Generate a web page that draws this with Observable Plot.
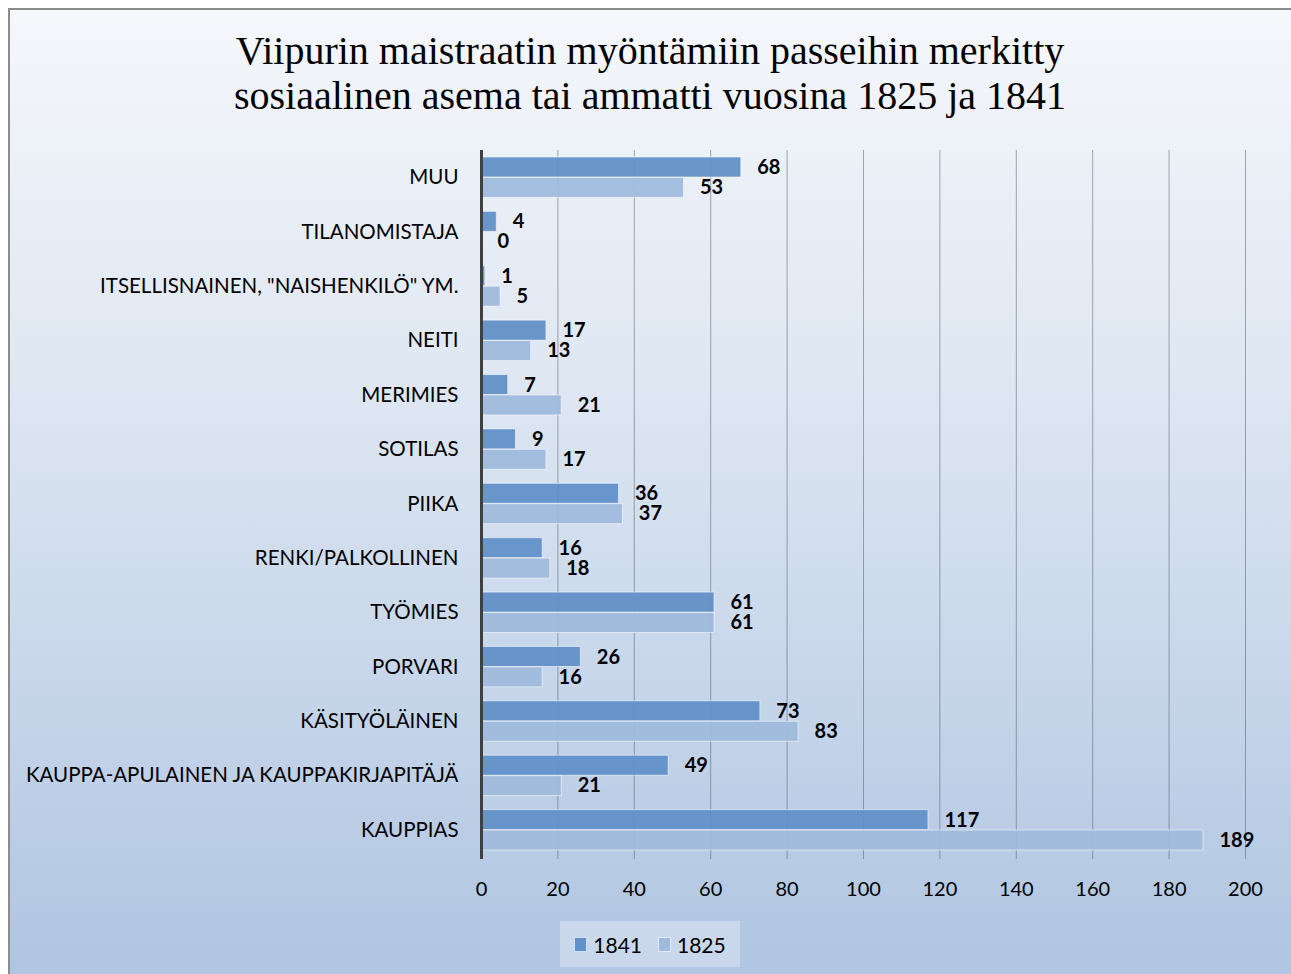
<!DOCTYPE html>
<html>
<head>
<meta charset="utf-8">
<script src="https://cdn.jsdelivr.net/npm/d3@7"></script>
<script src="https://cdn.jsdelivr.net/npm/@observablehq/plot@0.6"></script>
<style>
  html, body { margin: 0; padding: 0; width: 1291px; height: 974px; overflow: hidden; background: #fff; }
  #frame {
    position: absolute; left: 8px; top: 8px; width: 1290px; height: 980px;
    border-left: 2px solid #8c8c8c; border-top: 2px solid #8c8c8c;
    background: linear-gradient(to bottom, #f5f7fb 0%, #dde6f2 40%, #aec4e1 100%);
  }
  #title {
    position: absolute; left: 0; top: 28px; width: 1300px; text-align: center;
    font-family: "Liberation Serif", serif; font-size: 40px; line-height: 45px; color: #000;
  }
  #chart { position: absolute; left: 0; top: 130px; line-height: 0; }
  #legend {
    position: absolute; left: 560px; top: 921px; width: 180px; height: 46px;
    background: rgba(255,255,255,0.3);
    font-family: Lato, sans-serif; font-size: 21px; color: #000;
    display: flex; align-items: center; justify-content: center; gap: 16px;
  }
  .item { display: flex; align-items: center; gap: 6px; }
  .sw { width: 11px; height: 13px; border: 1px solid rgba(255,255,255,0.7); }
</style>
</head>
<body>
<div id="frame"></div>
<div id="title">Viipurin maistraatin myöntämiin passeihin merkitty<br>sosiaalinen asema tai ammatti vuosina 1825 ja 1841</div>
<div id="chart"></div>
<div id="legend"></div>
<script>
const categories = ["MUU", "TILANOMISTAJA", "ITSELLISNAINEN, \"NAISHENKILÖ\" YM.", "NEITI", "MERIMIES", "SOTILAS", "PIIKA", "RENKI/PALKOLLINEN", "TYÖMIES", "PORVARI", "KÄSITYÖLÄINEN", "KAUPPA-APULAINEN JA KAUPPAKIRJAPITÄJÄ", "KAUPPIAS"];
const values1841 = [68, 4, 1, 17, 7, 9, 36, 16, 61, 26, 73, 49, 117];
const values1825 = [53, 0, 5, 13, 21, 17, 37, 18, 61, 16, 83, 21, 189];
const series = ["1841", "1825"];
const colors = ["#6290c8", "#9fbadc"];
const xTicks = [0, 20, 40, 60, 80, 100, 120, 140, 160, 180, 200];

const d1841 = categories.map((c, i) => ({category: c, value: values1841[i], series: "1841"}));
const d1825 = categories.map((c, i) => ({category: c, value: values1825[i], series: "1825"}));

const chart = Plot.plot({
  width: 1291,
  height: 777,
  marginLeft: 481,
  marginRight: 46,
  marginTop: 20,
  marginBottom: 50,
  style: {background: "transparent", overflow: "visible"},
  x: {domain: [0, 200], ticks: xTicks, label: null},
  y: {domain: categories, padding: 0, round: false, label: null},
  marks: [
    Plot.ruleX(xTicks.filter(d => d > 0), {stroke: "#505866", strokeOpacity: 0.5, strokeWidth: 1, insetBottom: -2}),
    Plot.barX(d1841, {x: "value", y: "category", fill: colors[0], fillOpacity: 0.95, stroke: "#ffffff", strokeOpacity: 0.55, strokeWidth: 1, insetTop: 7, insetBottom: 27.4}),
    Plot.barX(d1825, {x: "value", y: "category", fill: colors[1], fillOpacity: 0.95, stroke: "#ffffff", strokeOpacity: 0.55, strokeWidth: 1, insetTop: 27.4, insetBottom: 7}),
    Plot.ruleX([0], {stroke: "#404040", strokeWidth: 3, insetBottom: -2}),
    Plot.text(d1841, {x: "value", y: "category", text: d => String(d.value), dx: 16, dy: -10, textAnchor: "start", fontWeight: "bold", fontSize: 20, fontFamily: "Lato, sans-serif", fill: "#000"}),
    Plot.text(d1825, {x: "value", y: "category", text: d => String(d.value), dx: 16, dy: 10, textAnchor: "start", fontWeight: "bold", fontSize: 20, fontFamily: "Lato, sans-serif", fill: "#000"}),
    Plot.axisX({ticks: xTicks, tickSize: 0, tickPadding: 24, fontSize: 20, fontFamily: "Lato, sans-serif", fill: "#000", label: null}),
    Plot.axisY({tickSize: 0, tickPadding: 23, fontSize: 20.5, fontFamily: "Lato, sans-serif", fill: "#000", label: null})
  ]
});
document.getElementById("chart").appendChild(chart);

const legend = document.getElementById("legend");
series.forEach((s, i) => {
  const item = document.createElement("div");
  item.className = "item";
  const sw = document.createElement("div");
  sw.className = "sw";
  sw.style.background = colors[i];
  const t = document.createElement("span");
  t.textContent = s;
  item.appendChild(sw);
  item.appendChild(t);
  legend.appendChild(item);
});
</script>
</body>
</html>
